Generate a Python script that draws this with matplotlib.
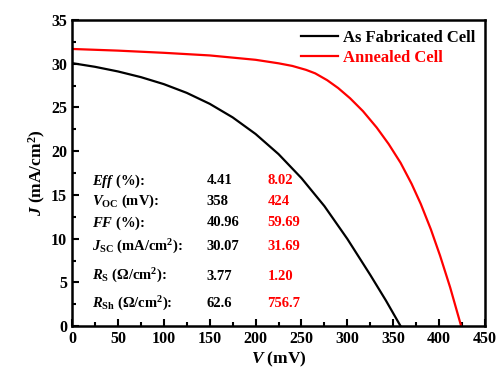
import numpy as np
import matplotlib.pyplot as plt
from matplotlib.ticker import MultipleLocator

plt.rcParams['font.family'] = 'Liberation Serif'
plt.rcParams['font.weight'] = 'bold'
plt.rcParams['axes.labelweight'] = 'bold'
plt.rcParams['mathtext.fontset'] = 'custom'
plt.rcParams['mathtext.rm'] = 'Liberation Serif:bold'
plt.rcParams['mathtext.it'] = 'Liberation Serif:italic:bold'
plt.rcParams['mathtext.bf'] = 'Liberation Serif:bold'

# J-V data
v_asfab = [0, 25, 50, 75, 100, 125, 150, 175, 200, 225, 250, 275, 300, 325, 342, 358]
j_asfab = [30.07, 29.65, 29.12, 28.47, 27.67, 26.67, 25.42, 23.87, 21.97, 19.67, 16.92, 13.72, 9.97, 5.85, 2.93, 0]
v_anneal = [0, 50, 100, 150, 200, 225, 240, 255, 265, 278, 290, 303, 317, 332, 345, 358, 370, 380, 391, 401, 412, 424]
j_anneal = [31.69, 31.5, 31.25, 30.95, 30.45, 30.05, 29.75, 29.3, 28.9, 28.12, 27.22, 26.05, 24.58, 22.7, 20.82, 18.67, 16.27, 13.97, 11.06, 8.06, 4.43, 0]

series_names = ['As Fabricated Cell', 'Annealed Cell']
series_colors = ['black', 'red']

param_labels = [r'$Eff$ (%):', r'$V_{\mathrm{OC}}$ (mV):', r'$FF$ (%):',
                r'$J_{\mathrm{SC}}$ (mA/cm$^2$):', r'$R_{\mathrm{S}}$ ($\Omega$/cm$^2$):',
                r'$R_{\mathrm{Sh}}$ ($\Omega$/cm$^2$):']
vals_asfab = ['4.41', '358', '40.96', '30.07', '3.77', '62.6']
vals_anneal = ['8.02', '424', '59.69', '31.69', '1.20', '756.7']

fig = plt.figure(figsize=(4.99, 3.74), dpi=100)
ax = fig.add_axes([0.1443, 0.128, 0.8277, 0.8185])

ax.plot(v_asfab, j_asfab, color=series_colors[0], lw=1.6, label=series_names[0])
ax.plot(v_anneal, j_anneal, color=series_colors[1], lw=1.6, label=series_names[1])

ax.set_xlim(0, 450)
ax.set_ylim(0, 35)
ax.xaxis.set_major_locator(MultipleLocator(50))
ax.xaxis.set_minor_locator(MultipleLocator(25))
ax.yaxis.set_major_locator(MultipleLocator(5))
ax.yaxis.set_minor_locator(MultipleLocator(2.5))
ax.tick_params(which='both', direction='in', labelsize=11.5, width=1.5)
ax.tick_params(which='major', length=5)
ax.tick_params(which='minor', length=3)
for lbl in ax.get_xticklabels() + ax.get_yticklabels():
    lbl.set_fontweight('bold')
for s in ax.spines.values():
    s.set_linewidth(1.8)

ax.set_xlabel(r'$V$ (mV)', fontsize=12.5, fontweight='bold', labelpad=2)
ax.set_ylabel(r'$J$ (mA/cm$^2$)', fontsize=12.5, fontweight='bold', labelpad=2)

leg = ax.legend(loc='upper right', frameon=False, prop={'size': 12, 'weight': 'bold'},
                handlelength=2.2, handletextpad=0.3, labelspacing=0.25, borderaxespad=0.2)
for t, c in zip(leg.get_texts(), series_colors):
    t.set_color(c)

row_y = [16.6, 14.3, 11.8, 9.1, 5.7, 2.6]
for lab, a, b, y in zip(param_labels, vals_asfab, vals_anneal, row_y):
    ax.text(22, y, lab, fontsize=10.5, fontweight='bold', va='center')
    ax.text(147, y, a, fontsize=10.5, fontweight='bold', va='center', color='black')
    ax.text(213, y, b, fontsize=10.5, fontweight='bold', va='center', color='red')

fig.savefig('out.png', dpi=100)
